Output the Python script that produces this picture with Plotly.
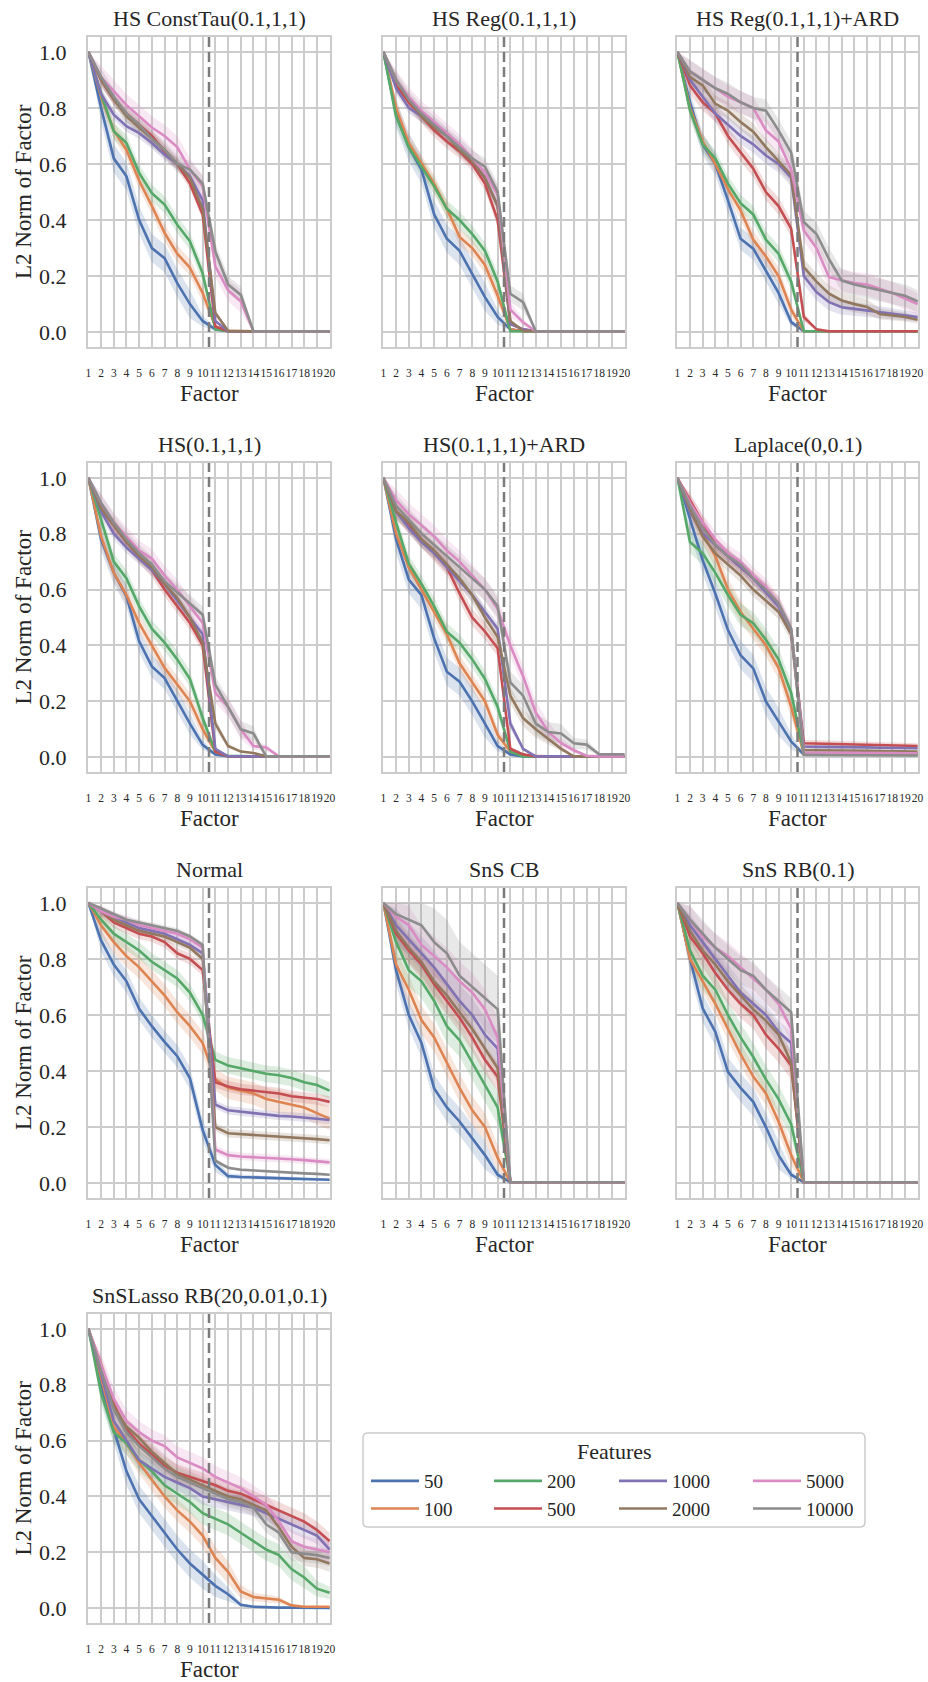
import plotly.graph_objects as go

# ---------------- data ----------------
factors = list(range(1, 21))
features = ["50", "100", "200", "500", "1000", "2000", "5000", "10000"]
colors = ["#4C72B0", "#DD8452", "#55A868", "#C44E52", "#8172B3", "#937860", "#DA8BC3", "#8C8C8C"]
legend_column = ["legend", "legend", "legend2", "legend2", "legend3", "legend3", "legend4", "legend4"]
titles = ["HS ConstTau(0.1,1,1)", "HS Reg(0.1,1,1)", "HS Reg(0.1,1,1)+ARD",
          "HS(0.1,1,1)", "HS(0.1,1,1)+ARD", "Laplace(0,0.1)",
          "Normal", "SnS CB", "SnS RB(0.1)", "SnSLasso RB(20,0.01,0.1)"]

hs_consttau = [
    [1.0, 0.80, 0.62, 0.556, 0.40, 0.30, 0.264, 0.175, 0.10, 0.04, 0.01, 0.003, 0.003, 0.003, 0.003, 0.003, 0.003, 0.003, 0.003, 0.003],
    [1.0, 0.84, 0.72, 0.65, 0.54, 0.45, 0.354, 0.28, 0.23, 0.14, 0.02, 0.005, 0.003, 0.003, 0.003, 0.003, 0.003, 0.003, 0.003, 0.003],
    [1.0, 0.85, 0.717, 0.675, 0.568, 0.496, 0.455, 0.383, 0.324, 0.21, 0.01, 0.003, 0.003, 0.003, 0.003, 0.003, 0.003, 0.003, 0.003, 0.003],
    [1.0, 0.90, 0.83, 0.78, 0.74, 0.70, 0.645, 0.60, 0.53, 0.42, 0.02, 0.003, 0.003, 0.003, 0.003, 0.003, 0.003, 0.003, 0.003, 0.003],
    [1.0, 0.85, 0.776, 0.735, 0.71, 0.675, 0.633, 0.60, 0.556, 0.47, 0.04, 0.003, 0.003, 0.003, 0.003, 0.003, 0.003, 0.003, 0.003, 0.003],
    [1.0, 0.90, 0.83, 0.77, 0.73, 0.69, 0.65, 0.60, 0.55, 0.44, 0.068, 0.005, 0.003, 0.003, 0.003, 0.003, 0.003, 0.003, 0.003, 0.003],
    [1.0, 0.91, 0.86, 0.81, 0.77, 0.73, 0.70, 0.66, 0.58, 0.52, 0.235, 0.15, 0.11, 0.003, 0.003, 0.003, 0.003, 0.003, 0.003, 0.003],
    [1.0, 0.91, 0.84, 0.78, 0.74, 0.69, 0.65, 0.60, 0.58, 0.53, 0.288, 0.17, 0.133, 0.003, 0.003, 0.003, 0.003, 0.003, 0.003, 0.003],
]
hs_reg = [
    [1.0, 0.78, 0.66, 0.58, 0.42, 0.333, 0.29, 0.208, 0.125, 0.054, 0.01, 0.003, 0.003, 0.003, 0.003, 0.003, 0.003, 0.003, 0.003, 0.003],
    [1.0, 0.80, 0.675, 0.60, 0.53, 0.44, 0.34, 0.30, 0.24, 0.13, 0.01, 0.003, 0.003, 0.003, 0.003, 0.003, 0.003, 0.003, 0.003, 0.003],
    [1.0, 0.77, 0.66, 0.59, 0.52, 0.44, 0.40, 0.35, 0.29, 0.18, 0.003, 0.003, 0.003, 0.003, 0.003, 0.003, 0.003, 0.003, 0.003, 0.003],
    [1.0, 0.88, 0.82, 0.77, 0.72, 0.68, 0.645, 0.60, 0.53, 0.40, 0.03, 0.01, 0.003, 0.003, 0.003, 0.003, 0.003, 0.003, 0.003, 0.003],
    [1.0, 0.87, 0.80, 0.77, 0.74, 0.70, 0.66, 0.61, 0.55, 0.45, 0.03, 0.01, 0.003, 0.003, 0.003, 0.003, 0.003, 0.003, 0.003, 0.003],
    [1.0, 0.90, 0.83, 0.77, 0.73, 0.70, 0.65, 0.61, 0.55, 0.45, 0.04, 0.005, 0.003, 0.003, 0.003, 0.003, 0.003, 0.003, 0.003, 0.003],
    [1.0, 0.90, 0.84, 0.79, 0.75, 0.71, 0.67, 0.62, 0.57, 0.49, 0.08, 0.035, 0.003, 0.003, 0.003, 0.003, 0.003, 0.003, 0.003, 0.003],
    [1.0, 0.90, 0.83, 0.78, 0.74, 0.70, 0.66, 0.62, 0.59, 0.50, 0.137, 0.107, 0.003, 0.003, 0.003, 0.003, 0.003, 0.003, 0.003, 0.003],
]
hs_reg_ard = [
    [1.0, 0.82, 0.67, 0.60, 0.47, 0.333, 0.298, 0.22, 0.14, 0.036, 0.003, 0.003, 0.003, 0.003, 0.003, 0.003, 0.003, 0.003, 0.003, 0.003],
    [1.0, 0.80, 0.68, 0.60, 0.51, 0.435, 0.33, 0.27, 0.20, 0.08, 0.003, 0.003, 0.003, 0.003, 0.003, 0.003, 0.003, 0.003, 0.003, 0.003],
    [1.0, 0.79, 0.67, 0.62, 0.53, 0.46, 0.42, 0.33, 0.28, 0.18, 0.003, 0.003, 0.003, 0.003, 0.003, 0.003, 0.003, 0.003, 0.003, 0.003],
    [1.0, 0.88, 0.82, 0.78, 0.70, 0.64, 0.583, 0.50, 0.45, 0.369, 0.054, 0.01, 0.003, 0.003, 0.003, 0.003, 0.003, 0.003, 0.003, 0.003],
    [1.0, 0.90, 0.84, 0.78, 0.74, 0.70, 0.67, 0.63, 0.60, 0.55, 0.20, 0.143, 0.107, 0.089, 0.083, 0.077, 0.07, 0.065, 0.06, 0.054],
    [1.0, 0.91, 0.88, 0.815, 0.79, 0.75, 0.715, 0.66, 0.61, 0.56, 0.232, 0.18, 0.137, 0.113, 0.10, 0.09, 0.065, 0.06, 0.054, 0.044],
    [1.0, 0.93, 0.90, 0.87, 0.84, 0.82, 0.80, 0.72, 0.68, 0.58, 0.363, 0.30, 0.196, 0.185, 0.175, 0.17, 0.155, 0.14, 0.12, 0.10],
    [1.0, 0.93, 0.90, 0.87, 0.85, 0.82, 0.80, 0.79, 0.72, 0.64, 0.393, 0.35, 0.26, 0.184, 0.17, 0.16, 0.15, 0.14, 0.13, 0.11],
]
hs = [
    [1.0, 0.78, 0.66, 0.576, 0.415, 0.325, 0.283, 0.20, 0.12, 0.044, 0.01, 0.003, 0.003, 0.003, 0.003, 0.003, 0.003, 0.003, 0.003, 0.003],
    [1.0, 0.79, 0.66, 0.58, 0.48, 0.40, 0.32, 0.26, 0.20, 0.10, 0.02, 0.003, 0.003, 0.003, 0.003, 0.003, 0.003, 0.003, 0.003, 0.003],
    [1.0, 0.85, 0.70, 0.64, 0.54, 0.46, 0.41, 0.35, 0.28, 0.14, 0.02, 0.005, 0.003, 0.003, 0.003, 0.003, 0.003, 0.003, 0.003, 0.003],
    [1.0, 0.89, 0.83, 0.77, 0.72, 0.67, 0.60, 0.54, 0.48, 0.40, 0.02, 0.003, 0.003, 0.003, 0.003, 0.003, 0.003, 0.003, 0.003, 0.003],
    [1.0, 0.88, 0.80, 0.75, 0.71, 0.67, 0.62, 0.56, 0.50, 0.44, 0.03, 0.003, 0.003, 0.003, 0.003, 0.003, 0.003, 0.003, 0.003, 0.003],
    [1.0, 0.89, 0.83, 0.77, 0.72, 0.68, 0.62, 0.57, 0.50, 0.41, 0.12, 0.04, 0.02, 0.015, 0.003, 0.003, 0.003, 0.003, 0.003, 0.003],
    [1.0, 0.91, 0.84, 0.79, 0.74, 0.71, 0.65, 0.60, 0.54, 0.48, 0.23, 0.18, 0.10, 0.04, 0.035, 0.003, 0.003, 0.003, 0.003, 0.003],
    [1.0, 0.91, 0.84, 0.78, 0.73, 0.69, 0.63, 0.59, 0.55, 0.51, 0.26, 0.18, 0.10, 0.085, 0.003, 0.003, 0.003, 0.003, 0.003, 0.003],
]
hs_ard = [
    [1.0, 0.78, 0.636, 0.58, 0.425, 0.306, 0.27, 0.20, 0.12, 0.04, 0.01, 0.003, 0.003, 0.003, 0.003, 0.003, 0.003, 0.003, 0.003, 0.003],
    [1.0, 0.80, 0.68, 0.60, 0.52, 0.44, 0.336, 0.27, 0.20, 0.08, 0.02, 0.005, 0.003, 0.003, 0.003, 0.003, 0.003, 0.003, 0.003, 0.003],
    [1.0, 0.84, 0.693, 0.62, 0.54, 0.449, 0.41, 0.35, 0.28, 0.18, 0.02, 0.003, 0.003, 0.003, 0.003, 0.003, 0.003, 0.003, 0.003, 0.003],
    [1.0, 0.88, 0.83, 0.78, 0.73, 0.68, 0.586, 0.50, 0.45, 0.39, 0.03, 0.01, 0.003, 0.003, 0.003, 0.003, 0.003, 0.003, 0.003, 0.003],
    [1.0, 0.88, 0.82, 0.77, 0.73, 0.68, 0.63, 0.58, 0.52, 0.46, 0.12, 0.03, 0.003, 0.003, 0.003, 0.003, 0.003, 0.003, 0.003, 0.003],
    [1.0, 0.88, 0.84, 0.78, 0.74, 0.69, 0.64, 0.58, 0.50, 0.43, 0.22, 0.14, 0.10, 0.065, 0.03, 0.003, 0.003, 0.003, 0.003, 0.003],
    [1.0, 0.92, 0.87, 0.83, 0.79, 0.74, 0.70, 0.65, 0.60, 0.53, 0.40, 0.29, 0.16, 0.09, 0.05, 0.025, 0.005, 0.003, 0.003, 0.003],
    [1.0, 0.90, 0.85, 0.80, 0.76, 0.72, 0.68, 0.64, 0.60, 0.54, 0.268, 0.22, 0.12, 0.09, 0.085, 0.05, 0.045, 0.01, 0.01, 0.01],
]
laplace = [
    [1.0, 0.85, 0.705, 0.586, 0.455, 0.365, 0.318, 0.20, 0.127, 0.056, 0.01, 0.01, 0.01, 0.01, 0.01, 0.01, 0.01, 0.01, 0.01, 0.01],
    [1.0, 0.88, 0.80, 0.72, 0.60, 0.52, 0.46, 0.40, 0.32, 0.18, 0.012, 0.012, 0.012, 0.012, 0.011, 0.011, 0.011, 0.011, 0.011, 0.011],
    [1.0, 0.77, 0.73, 0.66, 0.58, 0.51, 0.48, 0.42, 0.35, 0.23, 0.015, 0.015, 0.015, 0.014, 0.014, 0.014, 0.014, 0.013, 0.013, 0.013],
    [1.0, 0.92, 0.84, 0.76, 0.72, 0.68, 0.64, 0.60, 0.55, 0.45, 0.05, 0.049, 0.048, 0.047, 0.046, 0.045, 0.044, 0.043, 0.041, 0.04],
    [1.0, 0.88, 0.80, 0.76, 0.72, 0.68, 0.64, 0.59, 0.54, 0.45, 0.038, 0.037, 0.037, 0.036, 0.036, 0.035, 0.034, 0.034, 0.033, 0.032],
    [1.0, 0.89, 0.79, 0.73, 0.69, 0.65, 0.60, 0.56, 0.52, 0.44, 0.026, 0.025, 0.025, 0.024, 0.024, 0.023, 0.022, 0.022, 0.021, 0.02],
    [1.0, 0.91, 0.84, 0.78, 0.73, 0.70, 0.65, 0.61, 0.55, 0.46, 0.017, 0.017, 0.016, 0.016, 0.016, 0.015, 0.015, 0.015, 0.014, 0.014],
    [1.0, 0.90, 0.82, 0.76, 0.72, 0.69, 0.64, 0.60, 0.55, 0.46, 0.008, 0.008, 0.008, 0.007, 0.007, 0.007, 0.007, 0.006, 0.006, 0.006],
]
normal = [
    [1.0, 0.866, 0.78, 0.72, 0.622, 0.56, 0.504, 0.453, 0.374, 0.19, 0.065, 0.025, 0.022, 0.02, 0.019, 0.017, 0.016, 0.015, 0.014, 0.012],
    [1.0, 0.92, 0.86, 0.81, 0.77, 0.72, 0.67, 0.61, 0.56, 0.50, 0.37, 0.34, 0.33, 0.32, 0.30, 0.29, 0.28, 0.27, 0.25, 0.23],
    [1.0, 0.94, 0.89, 0.86, 0.83, 0.79, 0.76, 0.73, 0.68, 0.60, 0.44, 0.42, 0.41, 0.40, 0.39, 0.385, 0.375, 0.36, 0.35, 0.33],
    [1.0, 0.97, 0.93, 0.91, 0.89, 0.88, 0.86, 0.82, 0.80, 0.76, 0.36, 0.345, 0.335, 0.33, 0.325, 0.32, 0.31, 0.305, 0.30, 0.29],
    [1.0, 0.97, 0.95, 0.93, 0.91, 0.90, 0.89, 0.87, 0.85, 0.82, 0.28, 0.26, 0.255, 0.25, 0.245, 0.24, 0.238, 0.235, 0.23, 0.225],
    [1.0, 0.97, 0.94, 0.92, 0.90, 0.89, 0.88, 0.86, 0.84, 0.80, 0.20, 0.178, 0.175, 0.172, 0.17, 0.168, 0.165, 0.16, 0.157, 0.153],
    [1.0, 0.97, 0.95, 0.94, 0.92, 0.91, 0.90, 0.89, 0.87, 0.84, 0.12, 0.10, 0.095, 0.093, 0.09, 0.088, 0.085, 0.082, 0.078, 0.074],
    [1.0, 0.98, 0.96, 0.94, 0.93, 0.92, 0.91, 0.90, 0.88, 0.85, 0.08, 0.055, 0.048, 0.045, 0.043, 0.04, 0.038, 0.035, 0.033, 0.03],
]
sns_cb = [
    [1.0, 0.76, 0.60, 0.50, 0.338, 0.27, 0.22, 0.16, 0.10, 0.03, 0.003, 0.003, 0.003, 0.003, 0.003, 0.003, 0.003, 0.003, 0.003, 0.003],
    [1.0, 0.78, 0.69, 0.582, 0.52, 0.43, 0.34, 0.26, 0.20, 0.09, 0.003, 0.003, 0.003, 0.003, 0.003, 0.003, 0.003, 0.003, 0.003, 0.003],
    [1.0, 0.86, 0.76, 0.72, 0.65, 0.56, 0.51, 0.43, 0.35, 0.27, 0.003, 0.003, 0.003, 0.003, 0.003, 0.003, 0.003, 0.003, 0.003, 0.003],
    [1.0, 0.89, 0.83, 0.78, 0.71, 0.65, 0.59, 0.52, 0.44, 0.38, 0.003, 0.003, 0.003, 0.003, 0.003, 0.003, 0.003, 0.003, 0.003, 0.003],
    [1.0, 0.92, 0.87, 0.82, 0.77, 0.71, 0.65, 0.60, 0.53, 0.48, 0.003, 0.003, 0.003, 0.003, 0.003, 0.003, 0.003, 0.003, 0.003, 0.003],
    [1.0, 0.90, 0.84, 0.79, 0.72, 0.67, 0.61, 0.55, 0.48, 0.41, 0.003, 0.003, 0.003, 0.003, 0.003, 0.003, 0.003, 0.003, 0.003, 0.003],
    [1.0, 0.95, 0.92, 0.85, 0.81, 0.77, 0.72, 0.68, 0.62, 0.52, 0.003, 0.003, 0.003, 0.003, 0.003, 0.003, 0.003, 0.003, 0.003, 0.003],
    [1.0, 0.96, 0.94, 0.92, 0.86, 0.82, 0.74, 0.70, 0.66, 0.62, 0.003, 0.003, 0.003, 0.003, 0.003, 0.003, 0.003, 0.003, 0.003, 0.003],
]
sns_rb = [
    [1.0, 0.80, 0.624, 0.54, 0.397, 0.34, 0.29, 0.20, 0.10, 0.03, 0.003, 0.003, 0.003, 0.003, 0.003, 0.003, 0.003, 0.003, 0.003, 0.003],
    [1.0, 0.80, 0.72, 0.64, 0.55, 0.46, 0.38, 0.32, 0.22, 0.10, 0.003, 0.003, 0.003, 0.003, 0.003, 0.003, 0.003, 0.003, 0.003, 0.003],
    [1.0, 0.83, 0.74, 0.69, 0.60, 0.52, 0.45, 0.37, 0.30, 0.21, 0.003, 0.003, 0.003, 0.003, 0.003, 0.003, 0.003, 0.003, 0.003, 0.003],
    [1.0, 0.88, 0.82, 0.75, 0.69, 0.64, 0.60, 0.53, 0.48, 0.42, 0.003, 0.003, 0.003, 0.003, 0.003, 0.003, 0.003, 0.003, 0.003, 0.003],
    [1.0, 0.92, 0.86, 0.80, 0.74, 0.68, 0.64, 0.60, 0.54, 0.50, 0.003, 0.003, 0.003, 0.003, 0.003, 0.003, 0.003, 0.003, 0.003, 0.003],
    [1.0, 0.90, 0.83, 0.78, 0.72, 0.67, 0.62, 0.58, 0.53, 0.43, 0.003, 0.003, 0.003, 0.003, 0.003, 0.003, 0.003, 0.003, 0.003, 0.003],
    [1.0, 0.94, 0.88, 0.84, 0.81, 0.77, 0.73, 0.69, 0.64, 0.55, 0.003, 0.003, 0.003, 0.003, 0.003, 0.003, 0.003, 0.003, 0.003, 0.003],
    [1.0, 0.94, 0.89, 0.84, 0.80, 0.76, 0.74, 0.69, 0.65, 0.61, 0.003, 0.003, 0.003, 0.003, 0.003, 0.003, 0.003, 0.003, 0.003, 0.003],
]
snslasso_rb = [
    [1.0, 0.80, 0.64, 0.49, 0.39, 0.33, 0.27, 0.21, 0.16, 0.12, 0.08, 0.05, 0.012, 0.005, 0.003, 0.002, 0.002, 0.001, 0.001, 0.001],
    [1.0, 0.82, 0.65, 0.59, 0.52, 0.46, 0.40, 0.35, 0.31, 0.26, 0.18, 0.13, 0.06, 0.04, 0.035, 0.03, 0.01, 0.005, 0.005, 0.005],
    [1.0, 0.77, 0.63, 0.59, 0.53, 0.49, 0.44, 0.41, 0.38, 0.34, 0.32, 0.30, 0.27, 0.24, 0.21, 0.19, 0.14, 0.11, 0.07, 0.055],
    [1.0, 0.87, 0.73, 0.64, 0.59, 0.55, 0.51, 0.485, 0.47, 0.455, 0.44, 0.42, 0.41, 0.39, 0.37, 0.35, 0.33, 0.31, 0.28, 0.24],
    [1.0, 0.84, 0.67, 0.60, 0.53, 0.50, 0.47, 0.45, 0.43, 0.40, 0.39, 0.38, 0.37, 0.36, 0.34, 0.32, 0.30, 0.28, 0.26, 0.21],
    [1.0, 0.86, 0.72, 0.65, 0.61, 0.56, 0.52, 0.48, 0.46, 0.44, 0.42, 0.40, 0.39, 0.37, 0.35, 0.29, 0.22, 0.18, 0.175, 0.16],
    [1.0, 0.87, 0.75, 0.67, 0.63, 0.60, 0.58, 0.54, 0.52, 0.50, 0.47, 0.45, 0.43, 0.40, 0.37, 0.31, 0.24, 0.22, 0.21, 0.20],
    [1.0, 0.85, 0.71, 0.63, 0.58, 0.54, 0.50, 0.47, 0.45, 0.43, 0.41, 0.39, 0.38, 0.36, 0.30, 0.27, 0.20, 0.195, 0.19, 0.18],
]
panels = [hs_consttau, hs_reg, hs_reg_ard, hs, hs_ard, laplace, normal, sns_cb, sns_rb, snslasso_rb]

# approximate half-width of the confidence band for each series, per panel
ci_consttau = [0.05, 0.03, 0.03, 0.02, 0.02, 0.02, 0.04, 0.03]
ci_reg = [0.05, 0.03, 0.03, 0.025, 0.02, 0.02, 0.035, 0.03]
ci_reg_ard = [0.04, 0.03, 0.03, 0.03, 0.03, 0.03, 0.04, 0.04]
ci_hs = [0.04, 0.03, 0.03, 0.025, 0.02, 0.02, 0.035, 0.03]
ci_hs_ard = [0.05, 0.03, 0.03, 0.03, 0.02, 0.03, 0.04, 0.04]
ci_laplace = [0.05, 0.04, 0.04, 0.025, 0.02, 0.025, 0.03, 0.02]
ci_normal = [0.04, 0.04, 0.03, 0.02, 0.015, 0.015, 0.015, 0.01]
ci_sns_cb = [0.05, 0.05, 0.06, 0.05, 0.06, 0.05, 0.07, 0.12]
ci_sns_rb = [0.05, 0.04, 0.05, 0.05, 0.04, 0.04, 0.05, 0.05]
ci_lasso = [0.05, 0.04, 0.04, 0.03, 0.03, 0.03, 0.04, 0.03]
ci_panels = [ci_consttau, ci_reg, ci_reg_ard, ci_hs, ci_hs_ard, ci_laplace, ci_normal, ci_sns_cb, ci_sns_rb, ci_lasso]

y_ticks = [0.0, 0.2, 0.4, 0.6, 0.8, 1.0]
true_factors = 10.5

# ---------------- layout geometry (pixels) ----------------
W, H = 928, 1682
col_px = [(88, 330), (383, 625), (677, 918)]
row_px = [(37, 347), (463, 772), (888, 1198), (1314, 1623)]
legend_box = (363, 1433, 865, 1527)
legend_cols_px = [366, 489, 614, 748]
legend_top_px = 1462

FONT = "Liberation Serif, Times New Roman, Nimbus Roman, serif"
TXT = "#262626"
GRID = "#cccccc"


def rgba(hexc, a):
    h = hexc.lstrip("#")
    return "rgba(%d,%d,%d,%s)" % (int(h[0:2], 16), int(h[2:4], 16), int(h[4:6], 16), a)


fig = go.Figure()
layout = dict(
    width=W, height=H, margin=dict(l=0, r=0, t=0, b=0),
    paper_bgcolor="white", plot_bgcolor="white",
    font=dict(family=FONT, color=TXT, size=22),
    showlegend=True,
)
annotations = []
shapes = []

for i, (data, cis) in enumerate(zip(panels, ci_panels)):
    r, c = divmod(i, 3)
    ax = "" if i == 0 else str(i + 1)
    xa, ya = "x" + ax, "y" + ax
    x0, x1 = col_px[c]
    y0, y1 = row_px[r]
    # confidence bands
    for k, vals in enumerate(data):
        w = cis[k]
        lo, hi = [], []
        for j, v in enumerate(vals):
            h = 0.0 if j == 0 else w * min(1.0, v / 0.1)
            lo.append(max(v - h, 0.0))
            hi.append(min(v + h, 1.0))
        fig.add_trace(go.Scatter(
            x=factors + factors[::-1], y=hi + lo[::-1], xaxis=xa, yaxis=ya,
            fill="toself", fillcolor=rgba(colors[k], 0.2), line=dict(width=0),
            mode="lines", hoverinfo="skip", showlegend=False))
    # mean lines
    for k, vals in enumerate(data):
        fig.add_trace(go.Scatter(
            x=factors, y=vals, xaxis=xa, yaxis=ya, mode="lines",
            line=dict(color=colors[k], width=2.6),
            name=features[k], legend=legend_column[k],
            showlegend=(i == 0)))
    layout["xaxis" + ax] = dict(
        domain=[x0 / W, x1 / W], anchor=ya, range=[0.97, 20.03],
        tickmode="array", tickvals=factors, ticktext=[str(f) for f in factors],
        tickangle=0, tickfont=dict(size=11.5, family=FONT), ticklabelstandoff=14,
        showgrid=True, gridcolor=GRID, gridwidth=1.5, zeroline=False,
        showline=True, mirror=True, linecolor=GRID, linewidth=2,
        automargin=False, fixedrange=True)
    layout["yaxis" + ax] = dict(
        domain=[1 - y1 / H, 1 - y0 / H], anchor=xa, range=[-0.053, 1.053],
        tickmode="array", tickvals=y_ticks, ticktext=["%.1f" % t for t in y_ticks],
        tickfont=dict(size=22, family=FONT), ticklabelstandoff=15, showticklabels=(c == 0),
        showgrid=True, gridcolor=GRID, gridwidth=1.5, zeroline=False,
        showline=True, mirror=True, linecolor=GRID, linewidth=2,
        automargin=False, fixedrange=True)
    # panel title
    annotations.append(dict(
        text=titles[i], x=(x0 + x1) / 2 / W, y=1 - y0 / H, xref="paper", yref="paper",
        xanchor="center", yanchor="bottom", yshift=4, showarrow=False,
        font=dict(size=22, family=FONT, color=TXT)))
    # x-axis title
    annotations.append(dict(
        text="Factor", x=(x0 + x1) / 2 / W, y=1 - (y1 + 46) / H, xref="paper", yref="paper",
        xanchor="center", yanchor="middle", showarrow=False,
        font=dict(size=23, family=FONT, color=TXT)))
    # y-axis title
    if c == 0:
        annotations.append(dict(
            text="L2 Norm of Factor", x=23 / W, y=1 - (y0 + y1) / 2 / H, xref="paper", yref="paper",
            xanchor="center", yanchor="middle", textangle=-90, showarrow=False,
            font=dict(size=23, family=FONT, color=TXT)))
    shapes.append(dict(
        type="line", xref=xa, yref=ya + " domain", x0=true_factors, x1=true_factors,
        y0=0, y1=1, line=dict(color="#7a7a7a", width=2.5, dash="10px,5px"), layer="above"))

# legend frame (rounded) + title
lx0, ly0, lx1, ly1 = legend_box
rx, ry = 5 / W, 5 / H
X0, X1 = lx0 / W, lx1 / W
YT, YB = 1 - ly0 / H, 1 - ly1 / H
frame_path = (
    f"M {X0 + rx},{YT} L {X1 - rx},{YT} Q {X1},{YT} {X1},{YT - ry} "
    f"L {X1},{YB + ry} Q {X1},{YB} {X1 - rx},{YB} "
    f"L {X0 + rx},{YB} Q {X0},{YB} {X0},{YB + ry} "
    f"L {X0},{YT - ry} Q {X0},{YT} {X0 + rx},{YT} Z")
shapes.append(dict(type="path", xref="paper", yref="paper", path=frame_path,
                   line=dict(color=GRID, width=1.5), fillcolor="white", layer="below"))
annotations.append(dict(
    text="Features", x=(lx0 + lx1) / 2 / W, y=1 - 1451 / H,
    xref="paper", yref="paper", xanchor="center", yanchor="middle", showarrow=False,
    font=dict(size=22, family=FONT, color=TXT)))

for n, lxp in enumerate(legend_cols_px):
    key = "legend" if n == 0 else "legend%d" % (n + 1)
    layout[key] = dict(
        x=lxp / W, y=1 - legend_top_px / H, xanchor="left", yanchor="top",
        orientation="v", bgcolor="rgba(0,0,0,0)", borderwidth=0,
        font=dict(size=19, family=FONT, color=TXT), itemwidth=48,
        traceorder="normal", tracegroupgap=0)

layout["annotations"] = annotations
layout["shapes"] = shapes

fig.update_layout(**layout)
fig.write_html("out.html", config={"displayModeBar": False},
               post_script="document.body.style.margin='0';")
